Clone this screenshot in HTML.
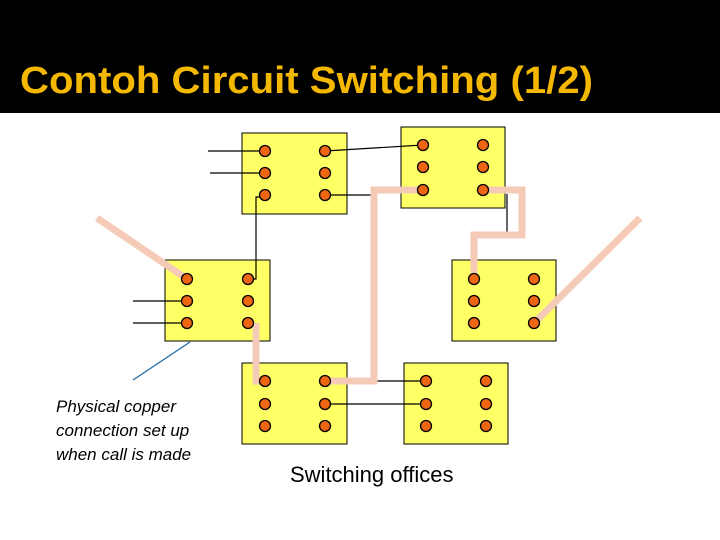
<!DOCTYPE html>
<html><head><meta charset="utf-8"><style>
html,body{margin:0;padding:0;background:#fff;}
svg{display:block;}
</style></head><body>
<svg width="720" height="540" viewBox="0 0 720 540" xmlns="http://www.w3.org/2000/svg">
<rect x="0" y="0" width="720" height="540" fill="#fff"/>
<rect x="0" y="0" width="720" height="113" fill="#000"/>
<text x="20" y="93" font-family="Liberation Sans, sans-serif" font-weight="bold" font-size="38" fill="#f5b800" textLength="573" lengthAdjust="spacingAndGlyphs">Contoh Circuit Switching (1/2)</text>

<g fill="#ffff66" stroke="#000" stroke-width="1">
<rect x="242" y="133" width="105" height="81"/>
<rect x="401" y="127" width="104" height="81"/>
<rect x="165" y="260" width="105" height="81"/>
<rect x="452" y="260" width="104" height="81"/>
<rect x="242" y="363" width="105" height="81"/>
<rect x="404" y="363" width="104" height="81"/>
</g>

<g stroke="#000" stroke-width="1.2" fill="none">
<line x1="208" y1="151" x2="265" y2="151"/>
<line x1="210" y1="173" x2="265" y2="173"/>
<line x1="325" y1="151" x2="423" y2="145"/>
<line x1="325" y1="195" x2="372" y2="195"/>
<polyline points="265,197 256,197 256,279 248,279"/>
<line x1="133" y1="301" x2="187" y2="301"/>
<line x1="133" y1="323" x2="187" y2="323"/>
<line x1="507" y1="194" x2="507" y2="232"/>
<line x1="374" y1="381" x2="426" y2="381"/>
<line x1="325" y1="404" x2="426" y2="404"/>
</g>
<line x1="190" y1="342" x2="133" y2="380" stroke="#1f6fa8" stroke-width="1.3"/>

<g stroke="#f5cbb8" stroke-width="7" fill="none" stroke-linejoin="miter">
<line x1="97" y1="218" x2="187" y2="279"/>
<polyline points="256,323 256,381 265,381"/>
<polyline points="325,381 374,381 374,190 423,190"/>
<polyline points="483,190 522,190 522,235 474,235 474,279"/>
<line x1="534" y1="323" x2="640" y2="218"/>
</g>

<g fill="#ee6611" stroke="#000" stroke-width="1.3">
<circle cx="265" cy="151" r="5.5"/><circle cx="265" cy="173" r="5.5"/><circle cx="265" cy="195" r="5.5"/>
<circle cx="325" cy="151" r="5.5"/><circle cx="325" cy="173" r="5.5"/><circle cx="325" cy="195" r="5.5"/>
<circle cx="423" cy="145" r="5.5"/><circle cx="423" cy="167" r="5.5"/><circle cx="423" cy="190" r="5.5"/>
<circle cx="483" cy="145" r="5.5"/><circle cx="483" cy="167" r="5.5"/><circle cx="483" cy="190" r="5.5"/>
<circle cx="187" cy="279" r="5.5"/><circle cx="187" cy="301" r="5.5"/><circle cx="187" cy="323" r="5.5"/>
<circle cx="248" cy="279" r="5.5"/><circle cx="248" cy="301" r="5.5"/><circle cx="248" cy="323" r="5.5"/>
<circle cx="474" cy="279" r="5.5"/><circle cx="474" cy="301" r="5.5"/><circle cx="474" cy="323" r="5.5"/>
<circle cx="534" cy="279" r="5.5"/><circle cx="534" cy="301" r="5.5"/><circle cx="534" cy="323" r="5.5"/>
<circle cx="265" cy="381" r="5.5"/><circle cx="265" cy="404" r="5.5"/><circle cx="265" cy="426" r="5.5"/>
<circle cx="325" cy="381" r="5.5"/><circle cx="325" cy="404" r="5.5"/><circle cx="325" cy="426" r="5.5"/>
<circle cx="426" cy="381" r="5.5"/><circle cx="426" cy="404" r="5.5"/><circle cx="426" cy="426" r="5.5"/>
<circle cx="486" cy="381" r="5.5"/><circle cx="486" cy="404" r="5.5"/><circle cx="486" cy="426" r="5.5"/>
</g>

<g font-family="Liberation Sans, sans-serif" font-style="italic" font-size="17" fill="#000">
<text x="56" y="412">Physical copper</text>
<text x="56" y="436">connection set up</text>
<text x="56" y="460">when call is made</text>
</g>
<text x="290" y="482" font-family="Liberation Sans, sans-serif" font-size="22" fill="#000">Switching offices</text>
</svg>
</body></html>
